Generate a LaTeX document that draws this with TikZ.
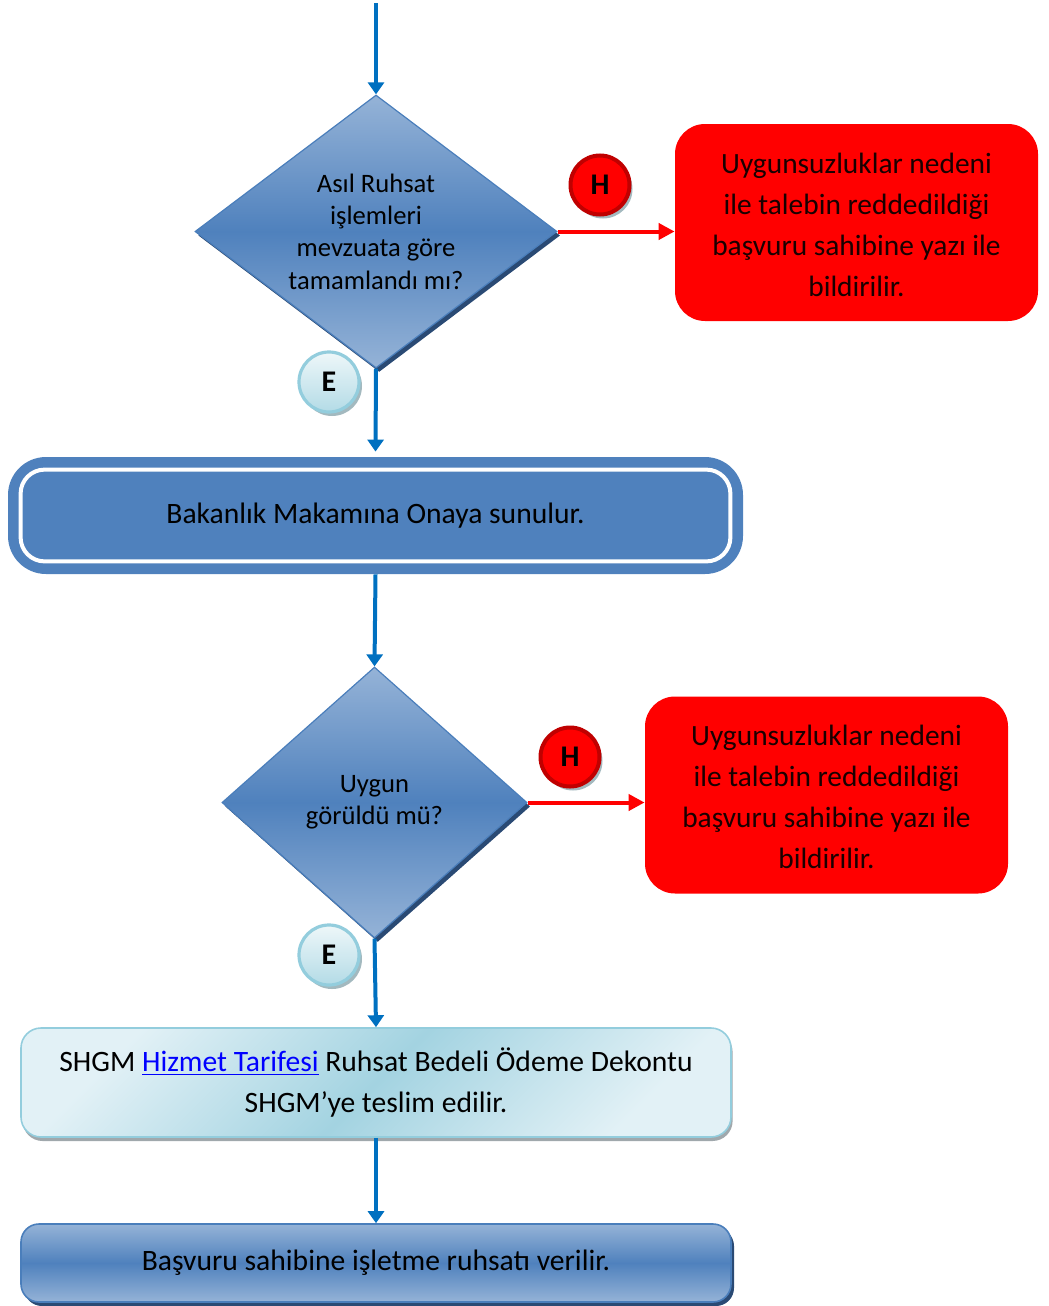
\documentclass[tikz,border=0pt]{standalone}
\usepackage{fontspec}
\setmainfont{Carlito}
\usetikzlibrary{shapes.geometric,arrows.meta,shadows,calc}
\definecolor{arrowblue}{HTML}{0070C0}
\definecolor{dlight}{HTML}{95B3D7}
\definecolor{dmid}{HTML}{4F81BD}
\definecolor{dedge}{HTML}{4A7EBB}
\definecolor{dshadow}{HTML}{2A4A74}
\definecolor{hred}{HTML}{FF0000}
\definecolor{hborder}{HTML}{C00000}
\definecolor{cshadow}{HTML}{A3B9BF}
\definecolor{elight}{HTML}{EEF7F9}
\definecolor{edark}{HTML}{B3DBE6}
\definecolor{eborder}{HTML}{93CDDD}
\definecolor{lbdark}{HTML}{A3D3E1}
\definecolor{lblight}{HTML}{E2F1F6}
\definecolor{gshadow}{HTML}{A0A8AC}
\newcommand{\rejtext}{\raisebox{-2pt}[\height][\depth]{\begin{tabular}{@{}c@{}}Uygunsuzluklar nedeni\\ile talebin reddedildiği\\başvuru sahibine yazı ile\\bildirilir.\end{tabular}}}
\begin{document}
\begin{tikzpicture}[x=0.5pt,y=-0.5pt,
  decision/.style={diamond, inner sep=0pt, draw=dedge, line width=0.6pt,
    top color=dlight, bottom color=dlight, middle color=dmid,
    drop shadow={shadow xshift=1.6pt,shadow yshift=-2pt,fill=dshadow,opacity=1},
    align=center, font=\fontsize{13.3}{16.2}\selectfont},
  rejbox/.style={rectangle, rounded corners=15pt, fill=hred, draw=none,
    minimum width=181.5pt, minimum height=98.5pt, align=center, text=black!90!red,
    font=\fontsize{14.7}{20.5}\selectfont},
  hcirc/.style={circle, fill=hred, draw=hborder, line width=2pt, minimum size=29.5pt,
    inner sep=0pt, font=\fontsize{15}{15}\selectfont\bfseries,
    drop shadow={shadow xshift=1.5pt,shadow yshift=-2pt,fill=cshadow,opacity=1}},
  ecirc/.style={circle, top color=elight, bottom color=edark, draw=eborder, line width=1.6pt,
    minimum size=30pt, inner sep=0pt, font=\fontsize{15}{15}\selectfont\bfseries,
    drop shadow={shadow xshift=1.5pt,shadow yshift=-2pt,fill=cshadow,opacity=1}},
  flow/.style={draw=arrowblue, line width=2pt, -{Triangle[width=8pt,length=6pt]}},
  noflow/.style={draw=hred, line width=2pt, -{Triangle[width=8pt,length=8pt]}},
  boxfont/.style={font=\fontsize{14.8}{20.5}\selectfont, align=center}
]
\useasboundingbox (0,0) rectangle (1049,1306);

% top entry
\coordinate (start) at (376,3);

% decision 1
\node[decision, aspect=1.33, minimum width=181pt, minimum height=136.5pt] (d1) at (376,231.5)
  {Asıl Ruhsat\\işlemleri\\mevzuata göre\\tamamlandı mı?};
\node[rejbox] (r1) at (856.5,222.5) {\rejtext};
\node[hcirc] (h1) at (600,185) {H};
\node[ecirc] (e1) at (329,382) {E};

% box 2
\node[rectangle, rounded corners=19pt, fill=dmid, minimum width=367.5pt, minimum height=58.5pt,
  boxfont] (b2) at (375.5,515.5) {Bakanlık Makamına Onaya sunulur.};
\draw[white, line width=2pt, rounded corners=12pt]
  ([xshift=6.5pt,yshift=6.5pt]b2.south west) rectangle ([xshift=-6.5pt,yshift=-6.5pt]b2.north east);

% decision 2
\node[decision, aspect=1.1, minimum width=152.5pt, minimum height=135.5pt] (d2) at (374.5,802.5)
  {Uygun\\görüldü mü?};
\node[rejbox] (r2) at (826.5,795) {\rejtext};
\node[hcirc] (h2) at (570,757) {H};
\node[ecirc] (e2) at (329,955) {E};

% box 3
\node[rectangle, rounded corners=10pt, draw=eborder, line width=0.8pt,
  top color=lblight, bottom color=lblight, middle color=lbdark, shading angle=45,
  drop shadow={shadow xshift=0.8pt,shadow yshift=-2pt,fill=gshadow,opacity=1},
  minimum width=355pt, minimum height=54.5pt, boxfont] (b3) at (376,1082.5)
  {SHGM \textcolor{blue}{\underline{Hizmet Tarifesi}} Ruhsat Bedeli Ödeme Dekontu\\SHGM’ye teslim edilir.};

% box 4
\node[rectangle, rounded corners=9pt, draw=dedge, line width=0.8pt,
  top color=dlight, bottom color=dlight, middle color=dmid,
  drop shadow={shadow xshift=1.5pt,shadow yshift=-2pt,fill=dshadow,opacity=1},
  minimum width=355pt, minimum height=39pt, boxfont] (b4) at (376,1263)
  {Başvuru sahibine işletme ruhsatı verilir.};

% connectors
\draw[flow] (start) -- (d1.north);
\draw[noflow] (d1.east) -- (d1.east -| r1.west);
\draw[flow] (d1.south) -- ($(b2.north)+(0,-5)$);
\draw[flow] (b2.south) -- (d2.north);
\draw[noflow] (d2.east) -- (d2.east -| r2.west);
\draw[flow] (d2.south) -- (b3.north);
\draw[flow] (b3.south) -- (b4.north);
\end{tikzpicture}
\end{document}
